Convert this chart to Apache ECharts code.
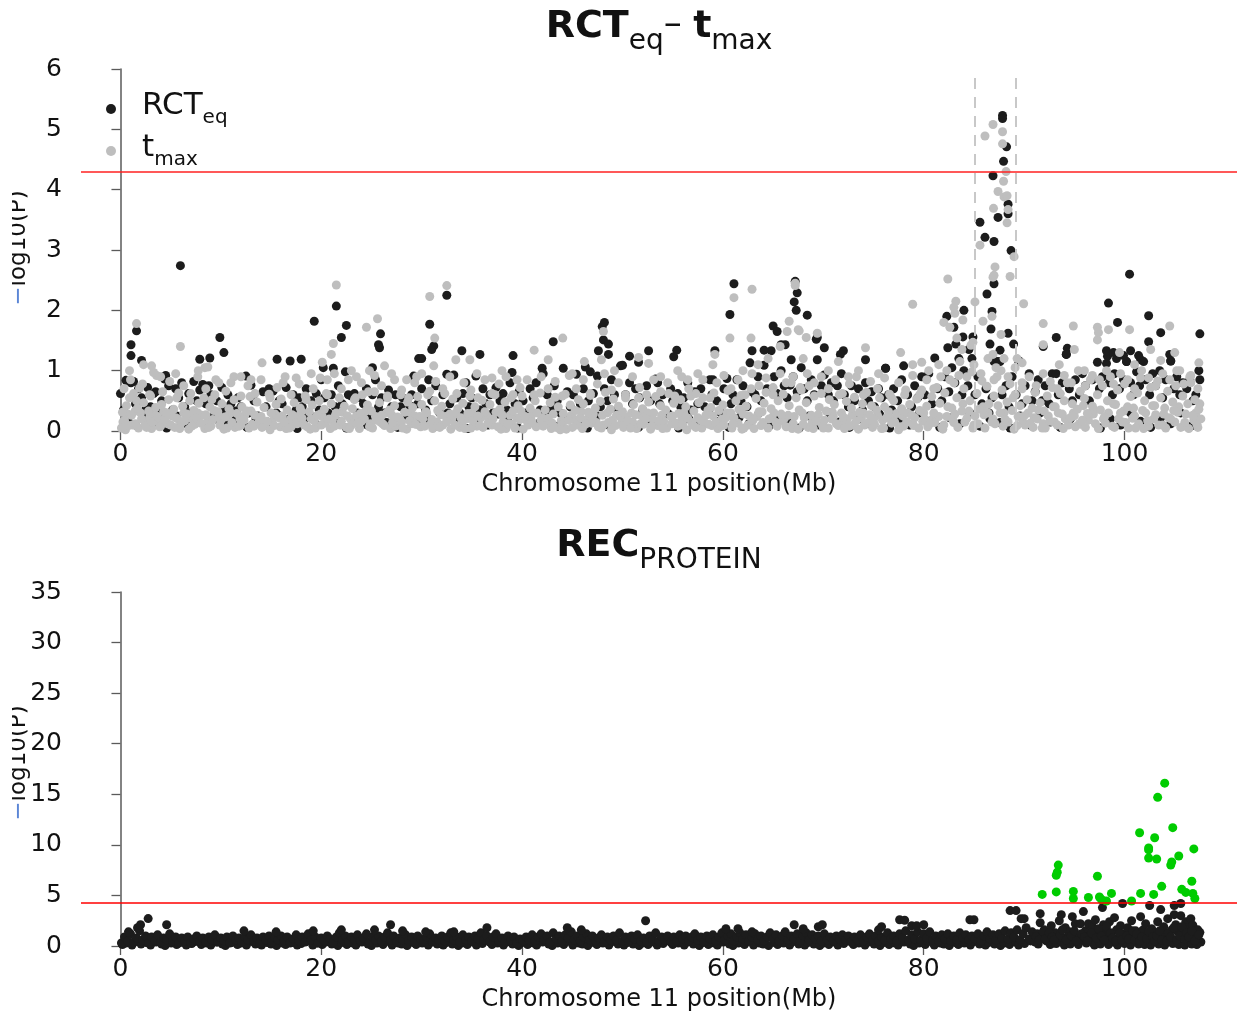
<!DOCTYPE html>
<html>
<head>
<meta charset="utf-8">
<title>RCTeq - tmax / RECprotein</title>
<script src="https://cdn.jsdelivr.net/npm/echarts@6/dist/echarts.min.js"></script>
<style>
html, body { margin: 0; padding: 0; background: #fff; }
#chart { width: 1243px; height: 1017px; }
</style>
</head>
<body>
<div id="chart"></div>
<script>
const xTicks = [0, 20, 40, 60, 80, 100]
const threshold = 4.3
const topRegion = [85.1, 89.2]
const topRegionTop = 5.92
const bottomRegion = [91.1, 107.6]
const bottomRegionTop = 35.3

// RCTeq (black): bulk of the band, low points, then the taller points
const rctBand = [
  [0.0,0.62],[0.3,0.35],[0.55,0.84],[0.8,0.15],[1.05,0.8],[1.3,0.82],[1.5,0.45],[1.8,0.7],
  [2.1,0.55],[2.4,0.25],[2.7,0.72],[3.0,0.4],[3.3,0.62],[3.5,0.65],[3.8,0.3],[4.1,0.5],[4.4,0.86],[4.5,0.92],[4.8,0.75],
  [5.2,0.35],[5.5,0.7],[5.8,0.55],[6.1,0.8],[6.4,0.4],[6.8,0.62],[7.0,0.3],[7.3,0.82],[7.6,0.5],[7.9,0.68],
  [8.2,0.77],[8.5,0.45],[8.8,0.75],[9.0,0.6],[9.3,0.25],[9.6,0.5],[10.1,0.72],[10.4,0.35],[10.7,0.6],
  [11.0,0.45],[11.4,0.2],[11.7,0.55],[12.0,0.4],[12.5,0.91],[12.8,0.3],[13.0,0.76],[13.3,0.5],[13.7,0.25],
  [14.2,0.65],[14.5,0.4],[14.8,0.7],[15.2,0.66],[15.5,0.3],[15.8,0.5],[16.1,0.45],[16.5,0.72],[16.8,0.2],
  [17.2,0.6],[17.5,0.35],[17.8,0.55],[18.1,0.4],[18.5,0.7],[18.8,0.28],[19.0,0.5],[19.5,0.62],[19.8,0.35],
  [20.0,0.85],[20.3,0.55],[20.7,0.3],[21.0,0.6],[21.4,0.4],[21.7,0.75],[22.1,0.45],[22.4,0.98],[22.7,0.6],
  [23.0,0.58],[23.3,0.62],[23.6,0.3],[23.9,0.55],[24.2,0.45],[24.5,0.7],[24.8,0.25],[25.1,0.6],[25.4,0.85],[25.7,0.4],
  [26.0,0.55],[26.3,0.3],[26.7,0.68],[27.0,0.4],[27.4,0.6],[27.9,0.4],[28.1,0.55],[28.4,0.3],[28.8,0.42],
  [29.0,0.6],[29.2,0.91],[29.6,0.45],[30.0,0.7],[30.4,0.35],[30.7,0.85],[31.0,0.5],[31.4,0.75],[31.8,0.3],
  [32.1,0.6],[32.5,0.94],[32.8,0.45],[33.2,0.93],[33.5,0.55],[33.8,0.3],[34.1,0.62],[34.4,0.8],[34.7,0.4],
  [35.0,0.55],[35.4,0.91],[35.8,0.35],[36.1,0.7],[36.4,0.45],[36.8,0.6],[37.1,0.3],[37.4,0.72],[37.8,0.5],
  [38.1,0.62],[38.5,0.35],[38.8,0.8],[39.0,0.97],[39.3,0.45],[39.7,0.65],[40.1,0.5],[40.4,0.3],[40.8,0.7],
  [41.1,0.55],[41.4,0.8],[41.8,0.35],[42.0,1.04],[42.1,0.95],[42.5,0.6],[42.9,0.4],[43.2,0.75],[43.5,0.5],[43.8,0.3],
  [44.1,1.04],[44.5,0.65],[44.8,0.4],[45.1,0.6],[45.4,0.94],[45.8,0.45],[46.1,0.7],[46.3,1.06],[46.6,0.5],[46.8,0.98],
  [47.1,0.62],[47.5,0.91],[47.8,0.4],[48.2,0.7],[48.5,0.5],[48.9,0.85],[49.2,0.6],[49.5,0.35],[49.8,1.08],
  [50.0,1.09],[50.3,0.6],[50.7,0.8],[51.0,0.45],[51.3,0.7],[51.7,0.55],[52.0,0.35],[52.4,0.75],[52.8,0.5],
  [53.3,0.86],[53.5,0.8],[53.7,0.45],[54.0,0.6],[54.4,0.3],[54.8,0.7],[55.0,0.5],[55.5,0.62],[55.8,0.4],
  [56.1,0.55],[56.5,0.8],[56.8,0.35],[57.2,0.65],[57.5,0.45],[57.8,0.7],[58.2,0.4],[58.7,0.85],[58.9,0.6],
  [59.0,0.85],[59.4,0.5],[59.8,0.3],[60.1,0.7],[60.4,0.87],[60.8,0.45],[61.0,0.6],[61.4,0.85],[61.8,0.5],
  [62.0,0.75],[62.4,0.4],[62.7,1.13],[62.9,0.65],[63.2,0.6],[63.5,0.9],[63.8,0.5],[64.1,1.09],[64.4,0.7],[64.8,1.33],
  [65.1,0.9],[65.4,0.62],[65.8,1.0],[66.1,0.75],[66.4,0.55],[66.7,0.76],[66.8,1.18],[67.0,0.9],[67.4,0.65],[67.8,1.05],
  [68.1,0.7],[68.4,0.5],[68.8,0.85],[69.1,0.6],[69.4,1.18],[69.8,0.75],[70.1,0.93],[70.5,0.6],[70.8,0.8],
  [71.0,0.5],[71.4,0.75],[71.8,0.95],[72.1,0.6],[72.5,0.4],[72.8,0.75],[73.1,0.5],[73.5,0.7],[73.9,0.35],
  [74.2,0.8],[74.5,0.5],[74.8,0.65],[75.1,0.4],[75.5,0.7],[75.8,0.55],[76.2,1.04],[76.5,0.6],[76.8,0.35],
  [77.0,0.7],[77.4,0.5],[77.8,0.85],[78.0,1.08],[78.4,0.6],[78.8,0.4],[79.1,0.75],[79.4,0.55],[79.8,0.9],
  [80.1,0.6],[80.5,0.95],[80.8,0.45],[81.1,1.21],[81.4,0.7],[81.8,0.5],[82.1,0.9],[82.5,0.65],[82.8,1.05],
  [83.1,0.8],[83.5,1.2],[83.8,0.6],[84.0,1.0],[84.4,0.75],[84.8,1.2],[85.1,0.6],[85.4,0.9],[85.8,0.45],
  [86.2,0.7],[86.5,0.3],[86.8,0.55],[87.0,1.15],[87.3,1.15],[87.6,1.15],[87.8,0.6],[88.2,0.75],[88.5,0.4],[88.8,0.9],
  [89.2,0.6],[89.5,1.16],[89.8,0.45],[90.1,0.75],[90.5,0.95],[90.8,0.5],[91.1,0.65],[91.4,0.85],[91.8,0.5],
  [92.1,0.75],[92.5,0.45],[92.8,0.95],[93.2,0.95],[93.4,0.6],[93.8,0.8],[94.2,1.27],[94.5,0.7],[94.8,0.5],
  [95.1,0.85],[95.5,0.6],[95.8,0.95],[96.1,0.75],[96.5,0.5],[96.8,0.85],[97.3,1.14],[97.5,0.7],[97.8,0.9],
  [98.2,1.12],[98.5,0.8],[98.8,0.6],[99.0,0.95],[99.5,0.7],[99.9,0.85],[100.2,1.15],[100.6,0.8],[100.9,0.6],
  [101.2,0.98],[101.5,0.75],[101.9,1.15],[102.1,0.85],[102.5,0.6],[102.8,0.95],[103.1,0.75],[103.5,1.0],[103.8,0.55],
  [104.1,0.85],[104.6,1.16],[104.9,0.7],[105.2,0.9],[105.5,0.6],[105.8,0.8],[106.2,0.7],[106.5,0.85],[106.8,0.5],
  [107.1,0.6],[107.4,1.0],[107.5,0.85]
]
const rctLow = [
  [0.5,0.2],[1.5,0.1],[2.5,0.35],[3.6,0.15],[4.6,0.05],[5.6,0.25],[6.6,0.12],[7.5,0.3],[8.6,0.08],[9.5,0.2],
  [10.5,0.14],[11.5,0.33],[12.6,0.06],[13.5,0.2],[14.6,0.1],[15.6,0.28],[16.6,0.15],[17.6,0.04],[18.6,0.22],[19.6,0.1],
  [20.5,0.3],[21.6,0.16],[22.5,0.05],[23.5,0.2],[24.6,0.1],[25.6,0.3],[26.5,0.14],[27.6,0.06],[28.6,0.25],[29.5,0.12],
  [30.6,0.2],[31.6,0.08],[32.6,0.3],[33.6,0.15],[34.6,0.04],[35.6,0.22],[36.6,0.1],[37.6,0.28],[38.6,0.16],[39.6,0.05],
  [40.6,0.2],[41.6,0.12],[42.6,0.3],[43.6,0.08],[44.6,0.2],[45.6,0.14],[46.5,0.05],[47.5,0.25],[48.6,0.1],[49.6,0.3],
  [50.6,0.15],[51.6,0.06],[52.6,0.2],[53.6,0.12],[54.6,0.28],[55.6,0.05],[56.6,0.2],[57.6,0.1],[58.6,0.3],[59.6,0.16],
  [60.6,0.06],[61.6,0.22],[62.6,0.12],[63.6,0.3],[64.6,0.08],[65.6,0.2],[66.6,0.14],[67.6,0.05],[68.6,0.25],[69.6,0.1],
  [70.6,0.3],[71.6,0.15],[72.6,0.06],[73.6,0.2],[74.6,0.12],[75.6,0.28],[76.6,0.05],[77.6,0.2],[78.6,0.1],[79.6,0.3],
  [80.6,0.16],[81.6,0.06],[82.6,0.22],[83.6,0.12],[84.6,0.3],[85.6,0.08],[86.6,0.2],[87.6,0.14],[88.6,0.05],[89.6,0.25],
  [90.6,0.1],[91.6,0.3],[92.6,0.15],[93.6,0.06],[94.6,0.2],[95.6,0.12],[96.6,0.28],[97.6,0.05],[98.6,0.2],[99.6,0.1],
  [100.6,0.3],[101.6,0.16],[102.6,0.06],[103.6,0.22],[104.6,0.12],[105.6,0.3],[106.6,0.08],[107.3,0.2]
]
const rctHigh = [
  [1.05,1.43],[1.05,1.25],[1.6,1.66],[2.1,1.17],[5.97,2.74],[9.9,1.55],[10.3,1.3],[8.9,1.21],[7.9,1.19],
  [15.6,1.19],[16.9,1.16],[18.0,1.19],[19.3,1.82],[20.2,1.05],[21.2,1.04],[21.5,2.07],[22.0,1.55],[22.5,1.75],
  [25.1,1.05],[25.7,1.43],[25.8,1.38],[25.9,1.61],[29.7,1.2],[30.0,1.2],[30.8,1.77],[31.2,1.41],[31.0,1.35],
  [32.5,2.25],[34.0,1.33],[35.8,1.27],[39.1,1.25],[43.1,1.48],[47.6,1.33],[47.98,1.73],[48.2,1.8],[48.1,1.51],
  [48.6,1.44],[48.6,1.27],[50.7,1.24],[51.6,1.14],[52.6,1.33],[55.4,1.34],[55.1,1.23],[59.2,1.33],[60.7,1.93],
  [61.1,2.44],[62.9,1.33],[64.1,1.34],[65.0,1.74],[65.4,1.65],[65.8,1.43],[66.2,1.43],[67.2,2.48],[67.4,2.29],
  [67.1,2.14],[67.3,2.0],[68.4,1.92],[69.3,1.52],[69.4,1.55],[70.1,1.38],[72.0,1.33],[71.7,1.27],[74.2,1.18],
  [76.2,1.04],[84.0,2.0],[82.3,1.9],[83.0,1.72],[83.9,1.56],[84.9,1.56],[82.4,1.38],[83.2,1.44],[84.5,1.35],
  [85.6,3.46],[86.1,3.21],[87.0,3.14],[86.3,2.27],[87.0,2.44],[86.8,1.98],[86.7,1.69],[88.4,1.62],[88.95,1.44],
  [86.6,1.44],[87.6,1.34],[86.9,4.23],[87.95,4.47],[88.25,4.71],[87.85,5.23],[87.85,5.18],[88.4,3.76],[87.4,3.54],
  [88.4,3.6],[88.7,2.99],[89.45,1.16],[91.9,1.4],[93.2,1.55],[94.3,1.37],[94.2,1.27],[98.4,2.12],[99.3,1.8],
  [100.5,2.6],[102.4,1.91],[102.4,1.48],[103.6,1.63],[107.5,1.61],[98.3,1.24],[99.2,1.2],[100.2,1.15],[101.6,1.18],
  [100.6,1.33],[104.6,1.16],[98.2,1.33],[98.9,1.3],[99.9,1.25],[101.4,1.25],[104.5,1.27]
]

// tmax (grey)
const tmaxBand = [
  [0.1,0.05],[0.2,0.31],[0.4,0.18],[0.6,0.42],[0.8,0.09],[0.9,0.55],[1.1,0.26],[1.3,0.62],[1.5,0.12],[1.7,0.38],[1.9,0.71],
  [2.1,0.2],[2.3,0.47],[2.6,0.06],[2.8,0.33],[3.0,0.58],[3.2,0.15],[3.5,0.39],[3.7,0.24],[3.9,0.07],
  [4.1,0.44],[4.4,0.19],[4.6,0.3],[4.8,0.52],[5.0,0.1],[5.3,0.36],[5.5,0.22],[5.8,0.63],[5.9,0.04],
  [6.2,0.41],[6.4,0.17],[6.6,0.28],[6.9,0.5],[7.1,0.08],[7.3,0.34],[7.6,0.21],[7.8,0.46],
  [8.0,0.13],[8.3,0.55],[8.5,0.27],[8.8,0.06],[8.9,0.4],[9.2,0.19],[9.4,0.6],[9.7,0.32],[9.9,0.1],
  [10.1,0.45],[10.4,0.23],[10.6,0.05],[10.8,0.37],[11.1,0.14],[11.3,0.52],[11.6,0.29],[11.8,0.08],
  [12.1,0.4],[12.3,0.18],[12.6,0.33],[12.9,0.57],[13.1,0.11],[13.4,0.26],[13.6,0.48],[13.9,0.2],
  [14.1,0.06],[14.3,0.39],[14.6,0.16],[14.8,0.61],[15.0,0.3],[15.3,0.09],[15.5,0.44],[15.8,0.22],
  [16.0,0.53],[16.3,0.15],[16.6,0.35],[16.8,0.05],[17.1,0.27],[17.3,0.47],[17.6,0.12],[17.9,0.38],
  [18.1,0.21],[18.4,0.58],[18.6,0.07],[18.8,0.32],[19.1,0.43],[19.3,0.17],[19.6,0.26],[19.8,0.5],
  [20.0,0.1],[20.3,0.36],[20.5,0.62],[20.8,0.2],[21.0,0.45],[21.3,0.08],[21.5,0.3],[21.8,0.55],
  [22.0,0.16],[22.3,0.41],[22.6,0.25],[22.8,0.04],[23.1,0.37],[23.3,0.52],[23.6,0.13],[23.9,0.29],
  [24.1,0.6],[24.3,0.2],[24.6,0.43],[24.8,0.07],[25.0,0.33],[25.3,0.65],[25.5,0.18],[25.8,0.47],
  [26.0,0.26],[26.3,0.09],[26.6,0.55],[26.8,0.35],[27.1,0.14],[27.3,0.42],[27.6,0.23],[27.9,0.6],
  [28.1,0.05],[28.3,0.31],[28.6,0.48],[28.8,0.17],[29.1,0.39],[29.4,0.11],[29.6,0.57],[29.8,0.24],
  [30.0,0.44],[30.3,0.08],[30.5,0.3],[30.8,0.66],[31.0,0.19],[31.3,0.5],[31.6,0.34],[31.8,0.06],
  [32.0,0.41],[32.3,0.62],[32.5,0.15],[32.8,0.28],[33.1,0.53],[33.3,0.1],[33.6,0.37],[33.9,0.22],
  [34.1,0.46],[34.3,0.04],[34.6,0.29],[34.8,0.58],[35.1,0.17],[35.3,0.4],[35.6,0.25],[35.8,0.09],
  [36.0,0.51],[36.3,0.32],[36.6,0.13],[36.8,0.44],[37.1,0.2],[37.3,0.6],[37.6,0.07],[37.8,0.36],
  [38.0,0.27],[38.3,0.48],[38.6,0.12],[38.9,0.55],[39.1,0.33],[39.3,0.05],[39.6,0.42],[39.8,0.19],
  [40.0,0.58],[40.3,0.24],[40.6,0.1],[40.8,0.38],[41.0,0.15],[41.3,0.5],[41.5,0.3],[41.8,0.63],
  [42.1,0.08],[42.3,0.35],[42.6,0.21],[42.8,0.47],[43.0,0.13],[43.3,0.56],[43.6,0.4],[43.8,0.02],
  [44.1,0.29],[44.3,0.61],[44.6,0.18],[44.8,0.43],[45.0,0.06],[45.3,0.34],[45.6,0.52],[45.8,0.22],
  [46.1,0.45],[46.3,0.11],[46.6,0.31],[46.8,0.59],[47.0,0.2],[47.3,0.38],[47.6,0.07],[47.8,0.49],
  [48.0,0.26],[48.3,0.64],[48.6,0.14],[48.8,0.36],[49.1,0.53],[49.3,0.09],[49.6,0.41],[49.8,0.23],
  [50.0,0.32],[50.3,0.6],[50.5,0.16],[50.8,0.05],[51.1,0.44],[51.3,0.27],[51.6,0.55],[51.8,0.12],
  [52.0,0.37],[52.3,0.2],[52.6,0.48],[52.9,0.08],[53.1,0.3],[53.3,0.57],[53.6,0.17],[53.8,0.42],
  [54.0,0.04],[54.3,0.35],[54.6,0.62],[54.8,0.24],[55.1,0.46],[55.3,0.13],[55.6,0.29],[55.8,0.52],
  [56.0,0.1],[56.3,0.4],[56.5,0.21],[56.8,0.58],[57.1,0.33],[57.3,0.06],[57.6,0.47],[57.8,0.18],
  [58.0,0.55],[58.3,0.26],[58.6,0.11],[58.8,0.39],[59.1,0.63],[59.3,0.15],[59.6,0.34],[59.8,0.08],
  [60.0,0.43],[60.3,0.22],[60.5,0.67],[60.8,0.3],[61.0,0.12],[61.3,0.5],[61.6,0.36],[61.8,0.59],
  [62.1,0.05],[62.3,0.41],[62.6,0.25],[62.8,0.7],[63.0,0.18],[63.3,0.54],[63.6,0.32],[63.8,0.09],
  [64.1,0.46],[64.3,0.64],[64.6,0.2],[64.8,0.37],[65.0,0.72],[65.3,0.14],[65.5,0.5],[65.8,0.28],
  [66.0,0.61],[66.3,0.07],[66.6,0.42],[66.8,0.8],[67.1,0.24],[67.3,0.55],[67.6,0.35],[67.8,0.68],
  [68.0,0.11],[68.3,0.47],[68.6,0.75],[68.8,0.26],[69.1,0.58],[69.3,0.16],[69.6,0.39],[69.8,0.62],
  [70.0,0.05],[70.3,0.33],[70.6,0.52],[70.8,0.2],[71.1,0.44],[71.3,0.12],[71.6,0.6],[71.8,0.3],
  [72.0,0.23],[72.3,0.49],[72.6,0.08],[72.8,0.38],[73.1,0.56],[73.3,0.17],[73.6,0.31],[73.9,0.45],
  [74.1,0.1],[74.3,0.64],[74.6,0.27],[74.8,0.42],[75.0,0.19],[75.3,0.35],[75.6,0.55],[75.8,0.04],
  [76.1,0.4],[76.3,0.22],[76.6,0.61],[76.8,0.13],[77.0,0.5],[77.3,0.29],[77.6,0.07],[77.8,0.37],
  [78.1,0.6],[78.3,0.15],[78.6,0.44],[78.8,0.26],[79.0,0.09],[79.3,0.53],[79.6,0.34],[79.8,0.68],
  [80.1,0.2],[80.3,0.41],[80.6,0.12],[80.8,0.57],[81.0,0.3],[81.3,0.72],[81.6,0.46],[81.8,0.06],
  [82.1,0.63],[82.3,0.24],[82.6,0.85],[82.8,0.38],[83.0,0.14],[83.3,0.55],[83.5,0.92],[83.8,0.33],
  [84.0,0.7],[84.3,0.21],[84.6,0.5],[84.8,0.98],[85.0,0.1],[85.3,0.62],[85.5,0.36],[85.8,0.83],
  [86.0,0.27],[86.3,0.74],[86.5,0.45],[86.8,0.15],[87.0,0.58],[87.3,0.9],[87.6,0.3],[87.8,0.68],
  [88.1,0.19],[88.3,0.48],[88.6,0.78],[88.8,0.34],[89.1,0.6],[89.3,0.09],[89.6,0.42],[89.8,0.7],
  [90.0,0.25],[90.3,0.52],[90.6,0.13],[90.8,0.38],[91.1,0.64],[91.3,0.2],[91.6,0.47],[91.8,0.05],
  [92.0,0.33],[92.3,0.58],[92.6,0.16],[92.8,0.72],[93.1,0.4],[93.3,0.1],[93.6,0.62],[93.8,0.28],
  [94.0,0.5],[94.3,0.8],[94.6,0.22],[94.8,0.45],[95.1,0.07],[95.3,0.36],[95.6,0.66],[95.8,0.18],
  [96.0,0.54],[96.3,0.29],[96.6,0.85],[96.8,0.41],[97.1,0.12],[97.3,0.6],[97.6,0.35],[97.8,0.75],
  [98.0,0.23],[98.3,0.5],[98.6,0.9],[98.8,0.08],[99.1,0.44],[99.3,0.68],[99.6,0.3],[99.8,0.15],
  [100.0,0.78],[100.3,0.4],[100.6,0.57],[100.8,0.21],[101.1,0.05],[101.3,0.63],[101.6,0.88],[101.8,0.34],
  [102.0,0.5],[102.3,0.17],[102.6,0.72],[102.8,0.42],[103.1,0.27],[103.3,0.83],[103.6,0.55],[103.8,0.1],
  [104.0,0.38],[104.3,0.66],[104.6,0.2],[104.8,0.48],[105.1,0.75],[105.3,0.31],[105.6,0.06],[105.8,0.58],
  [106.0,0.14],[106.3,0.45],[106.6,0.8],[106.8,0.26],[107.0,0.52],[107.2,0.11],[107.4,0.36],[107.6,0.2]
]
const tmaxLow = [
  [0.25,0.15],[0.5,0.02],[0.75,0.28],[1.2,0.1],[1.45,0.33],[1.8,0.05],[2.0,0.3],[2.45,0.12],[2.9,0.22],
  [3.1,0.04],[3.4,0.27],[3.8,0.18],[4.0,0.08],[4.3,0.32],[4.7,0.12],[5.1,0.25],[5.4,0.06],[5.7,0.2],
  [6.0,0.12],[6.3,0.3],[6.8,0.03],[7.0,0.22],[7.4,0.11],[7.7,0.3],[8.1,0.26],[8.4,0.04],[8.7,0.17],
  [9.0,0.08],[9.3,0.34],[9.8,0.23],[10.0,0.18],[10.3,0.03],[10.7,0.25],[11.0,0.3],[11.4,0.06],[11.9,0.2],
  [12.0,0.1],[12.4,0.27],[12.8,0.05],[13.0,0.33],[13.3,0.08],[13.8,0.15],[14.0,0.24],[14.4,0.12],[14.9,0.02],
  [15.1,0.16],[15.4,0.28],[15.9,0.07],[16.1,0.25],[16.5,0.04],[16.9,0.19],[17.0,0.07],[17.4,0.24],[17.8,0.14],
  [18.0,0.33],[18.3,0.1],[18.9,0.03],[19.0,0.2],[19.4,0.05],[19.9,0.28],[20.1,0.24],[20.4,0.13],[20.9,0.04],
  [21.1,0.18],[21.4,0.26],[21.9,0.1],[22.1,0.31],[22.5,0.06],[22.9,0.2],[23.0,0.1],[23.5,0.25],[23.8,0.04],
  [24.0,0.16],[24.4,0.33],[24.9,0.12],[25.1,0.05],[25.4,0.24],[25.9,0.15],[26.1,0.12],[26.5,0.3],[26.9,0.04],
  [27.0,0.27],[27.4,0.08],[27.8,0.2],[28.0,0.15],[28.5,0.03],[28.9,0.3],[29.0,0.12],[29.3,0.25],[29.9,0.07],
  [30.1,0.2],[30.4,0.32],[30.9,0.11],[31.1,0.04],[31.5,0.15],[31.9,0.27],[32.1,0.1],[32.4,0.24],[32.9,0.03],
  [33.0,0.2],[33.4,0.3],[33.8,0.06],[34.0,0.13],[34.5,0.2],[34.9,0.05],[35.0,0.3],[35.5,0.08],[35.9,0.22],
  [36.1,0.06],[36.5,0.25],[36.9,0.14],[37.0,0.1],[37.4,0.31],[37.9,0.03],[38.1,0.15],[38.4,0.04],[38.8,0.26],
  [39.0,0.11],[39.5,0.21],[39.9,0.33],[40.1,0.03],[40.5,0.16],[40.9,0.24],[41.1,0.3],[41.4,0.07],[41.9,0.18],
  [42.0,0.22],[42.4,0.12],[42.9,0.04],[43.1,0.28],[43.4,0.06],[43.9,0.17],[44.0,0.11],[44.4,0.03],[44.9,0.26],
  [45.1,0.2],[45.5,0.1],[45.9,0.32],[46.0,0.04],[46.5,0.2],[46.9,0.13],[47.1,0.28],[47.4,0.14],[47.9,0.05],
  [48.1,0.1],[48.5,0.3],[48.9,0.02],[49.0,0.18],[49.4,0.26],[49.9,0.12],[50.1,0.06],[50.4,0.23],[50.9,0.3],
  [51.0,0.15],[51.4,0.04],[51.9,0.25],[52.1,0.11],[52.5,0.3],[52.8,0.03],[53.0,0.2],[53.5,0.09],[53.9,0.26],
  [54.1,0.16],[54.4,0.05],[54.9,0.12],[55.0,0.25],[55.5,0.08],[55.9,0.18],[56.1,0.3],[56.4,0.02],[56.9,0.14],
  [57.0,0.1],[57.5,0.22],[57.9,0.05],[58.1,0.16],[58.5,0.34],[58.9,0.09],[59.0,0.25],[59.5,0.04],[59.9,0.2],
  [60.1,0.1],[60.4,0.3],[60.9,0.05],[61.1,0.22],[61.5,0.13],[61.9,0.03],[62.0,0.28],[62.5,0.1],[62.9,0.18],
  [63.1,0.04],[63.4,0.24],[63.9,0.32],[64.0,0.14],[64.5,0.05],[64.9,0.22],[65.1,0.3],[65.4,0.08],[65.9,0.16],
  [66.1,0.2],[66.5,0.26],[66.9,0.04],[67.0,0.12],[67.5,0.03],[67.9,0.3],[68.1,0.22],[68.5,0.06],[68.9,0.14],
  [69.0,0.04],[69.5,0.27],[69.9,0.1],[70.1,0.18],[70.5,0.05],[70.9,0.31],[71.0,0.24],[71.5,0.09],[71.9,0.15],
  [72.1,0.04],[72.4,0.2],[72.9,0.27],[73.0,0.1],[73.5,0.03],[73.8,0.22],[74.0,0.3],[74.5,0.14],[74.9,0.06],
  [75.1,0.11],[75.4,0.26],[75.9,0.18],[76.0,0.05],[76.5,0.32],[76.9,0.2],[77.1,0.15],[77.5,0.02],[77.9,0.25],
  [78.0,0.08],[78.4,0.3],[78.9,0.12],[79.1,0.22],[79.5,0.05],[79.9,0.16],[80.0,0.3],[80.4,0.07],[80.9,0.2],
  [81.1,0.14],[81.5,0.24],[81.9,0.03],[82.0,0.1],[82.4,0.4],[82.9,0.18],[83.1,0.28],[83.4,0.06],[83.9,0.45],
  [84.1,0.15],[84.5,0.33],[84.9,0.05],[85.1,0.25],[85.4,0.12],[85.9,0.4],[86.1,0.05],[86.4,0.3],[86.9,0.2],
  [87.1,0.12],[87.4,0.42],[87.9,0.08],[88.0,0.3],[88.4,0.15],[88.9,0.55],[89.0,0.03],[89.4,0.24],[89.9,0.14],
  [90.1,0.1],[90.4,0.3],[90.9,0.06],[91.0,0.22],[91.4,0.35],[91.9,0.12],[92.1,0.05],[92.4,0.25],[92.9,0.4],
  [93.0,0.15],[93.4,0.3],[93.9,0.04],[94.1,0.2],[94.4,0.1],[94.9,0.3],[95.0,0.25],[95.5,0.12],[95.9,0.42],
  [96.1,0.06],[96.4,0.18],[96.9,0.28],[97.0,0.35],[97.4,0.04],[97.9,0.2],[98.1,0.13],[98.4,0.3],[98.9,0.45],
  [99.0,0.06],[99.4,0.2],[99.9,0.33],[100.1,0.14],[100.4,0.05],[100.9,0.38],[101.0,0.25],[101.4,0.12],[101.9,0.04],
  [102.1,0.3],[102.4,0.08],[102.9,0.2],[103.0,0.42],[103.4,0.1],[103.9,0.28],[104.1,0.05],[104.4,0.22],[104.9,0.34],
  [105.0,0.15],[105.4,0.4],[105.9,0.08],[106.1,0.28],[106.4,0.04],[106.9,0.18],[107.1,0.3],[107.3,0.06],[107.5,0.45]
]
const tmaxMid = [
  [0.35,0.7],[1.0,0.85],[1.6,0.5],[2.2,0.78],[2.9,0.6],[3.6,0.92],[4.2,0.65],[4.9,0.82],[5.6,0.55],[6.3,0.75],
  [7.0,0.62],[7.7,0.9],[8.5,0.7],[9.1,0.52],[9.8,0.8],[10.5,0.66],[11.3,0.9],[12.0,0.58],[12.7,0.75],[13.4,0.62],
  [14.0,0.85],[14.9,0.55],[15.6,0.72],[16.4,0.9],[17.0,0.6],[17.8,0.78],[18.5,0.52],[19.2,0.7],[19.9,0.88],[20.6,0.6],
  [21.3,0.95],[22.0,0.7],[22.7,0.85],[23.4,0.55],[24.0,0.8],[24.7,0.65],[25.3,0.92],[26.0,0.75],[26.6,0.58],[27.3,0.85],
  [28.0,0.68],[28.7,0.55],[29.3,0.8],[30.0,0.95],[30.6,0.6],[31.4,0.82],[32.1,0.7],[32.8,0.9],[33.5,0.62],[34.2,0.8],
  [34.9,0.68],[35.6,0.55],[36.3,0.85],[37.0,0.62],[37.7,0.78],[38.4,0.9],[39.1,0.6],[39.8,0.72],[40.5,0.85],[41.2,0.6],
  [41.9,0.9],[42.6,0.7],[43.3,0.82],[44.0,0.58],[44.7,0.92],[45.4,0.7],[46.1,0.85],[46.8,0.62],[47.5,0.78],[48.2,0.95],
  [48.9,0.68],[49.6,0.8],[50.3,0.55],[51.0,0.9],[51.7,0.72],[52.4,0.6],[53.1,0.85],[53.8,0.65],[54.5,0.8],[55.2,0.58],
  [55.9,0.9],[56.6,0.7],[57.3,0.62],[58.0,0.85],[58.7,0.55],[59.4,0.8],[60.1,0.92],[60.8,0.7],[61.5,0.85],[62.2,0.6],
  [62.9,0.95],[63.6,0.75],[64.3,0.88],[65.0,0.6],[65.7,0.95],[66.3,0.8],[67.0,0.9],[67.7,0.72],[68.4,0.95],[69.1,0.8],
  [69.8,0.9],[70.5,0.7],[71.2,0.85],[71.9,0.62],[72.6,0.78],[73.3,0.9],[74.0,0.6],[74.7,0.82],[75.4,0.7],[76.1,0.88],
  [76.8,0.55],[77.5,0.8],[78.2,0.68],[78.9,0.92],[79.6,0.6],[80.3,0.85],[81.0,0.7],[81.7,0.9],[82.3,1.0],[83.0,0.8],
  [83.6,1.15],[84.3,0.9],[85.0,1.1],[85.7,0.95],[86.4,1.2],[87.0,0.85],[87.7,1.0],[88.4,0.9],[89.1,1.05],[89.8,0.8],
  [90.5,0.9],[91.2,0.75],[91.9,0.95],[92.6,0.82],[93.3,0.7],[94.0,0.92],[94.7,0.8],[95.4,1.0],[96.1,0.75],[96.8,0.92],
  [97.5,0.85],[98.2,1.0],[98.9,0.78],[99.6,0.95],[100.3,0.85],[101.0,0.7],[101.7,1.0],[102.4,0.88],[103.1,0.75],[103.8,0.95],
  [104.5,0.85],[105.2,1.0],[105.9,0.78],[106.6,0.92],[107.3,0.7]
]
const tmaxHigh = [
  [0.9,1.0],[1.6,1.78],[2.3,1.1],[3.1,1.08],[3.3,0.97],[4.0,0.9],[5.97,1.4],[5.5,0.95],[7.75,1.0],[8.4,1.05],
  [8.7,1.06],[9.5,0.85],[11.0,0.8],[12.0,0.9],[14.1,1.13],[13.0,0.85],[16.2,0.8],[17.5,0.88],[19.0,0.95],
  [20.1,1.14],[20.6,0.85],[21.2,1.45],[21.0,1.27],[21.5,2.42],[23.0,1.0],[23.5,0.9],[24.5,1.72],[25.6,1.86],
  [26.3,1.08],[24.8,1.0],[27.0,0.95],[28.5,0.85],[29.5,0.9],[30.8,2.23],[31.3,1.54],[32.5,2.41],[33.4,1.18],
  [31.2,1.08],[34.8,1.18],[35.5,0.95],[37.0,0.88],[38.0,1.0],[39.5,0.85],[41.2,1.34],[42.6,1.18],[44.05,1.54],
  [45.0,0.95],[46.2,1.15],[47.9,1.18],[48.1,1.65],[49.2,1.0],[51.6,1.22],[52.6,1.12],[53.8,0.9],[55.5,1.0],
  [56.5,0.85],[57.5,0.95],[59.2,1.27],[59.0,1.1],[60.7,1.54],[61.1,2.21],[62.9,2.35],[62.8,1.54],[62.0,1.0],
  [63.5,1.1],[64.5,1.2],[65.7,1.4],[66.6,1.82],[66.4,1.65],[67.2,2.45],[67.2,2.41],[67.5,1.68],[67.6,1.66],
  [68.3,1.55],[68.0,1.2],[69.4,1.62],[70.5,1.0],[71.5,1.15],[72.5,0.9],[73.5,1.0],[74.2,1.38],[75.5,0.95],
  [77.7,1.3],[78.9,2.1],[78.9,1.1],[79.8,1.14],[80.5,1.0],[81.5,1.1],[82.4,2.52],[83.2,2.15],[83.0,2.05],
  [83.1,1.95],[82.0,1.8],[82.6,1.72],[83.9,1.84],[83.3,1.54],[84.9,1.47],[84.7,1.42],[83.8,1.35],[85.1,2.14],
  [85.6,3.08],[85.9,1.82],[86.1,4.89],[86.9,5.08],[87.85,4.96],[87.85,4.76],[88.2,4.3],[87.95,4.14],[87.4,3.97],
  [88.0,3.88],[88.3,3.9],[88.4,3.67],[86.95,3.69],[88.3,3.45],[89.0,2.89],[87.1,2.72],[86.9,2.55],[87.0,2.58],
  [88.6,2.56],[86.8,1.9],[87.7,1.6],[86.9,1.27],[87.2,1.05],[88.0,1.2],[89.95,2.11],[89.3,1.2],[89.8,1.13],
  [91.9,1.78],[91.9,1.43],[93.5,1.1],[94.9,1.74],[95.0,1.35],[96.0,1.0],[97.3,1.72],[97.3,1.51],[97.4,1.63],
  [98.4,1.68],[99.5,1.3],[100.5,1.68],[101.0,1.1],[102.6,1.35],[103.6,1.17],[104.5,1.74],[105.0,1.3],
  [105.5,1.0],[106.5,0.9],[107.4,1.13]
]

// REC protein (black): 0-91 Mb band, isolated taller points, the 91-107 Mb region
const recBand = [
  [0.1,0.3],[0.4,0.9],[0.7,0.5],[1.0,1.2],[1.3,0.4],[1.6,0.8],[1.9,1.5],[2.2,0.6],[2.5,1.0],[2.8,0.3],
  [3.1,0.9],[3.4,0.5],[3.7,1.1],[4.0,0.4],[4.3,0.8],[4.6,0.6],[4.9,1.2],[5.2,0.5],[5.5,0.9],[5.8,0.3],
  [6.1,0.8],[6.4,0.5],[6.7,0.9],[7.0,0.3],[7.3,0.7],[7.6,1.0],[7.9,0.5],[8.2,0.8],[8.5,0.4],[8.8,0.9],
  [9.1,0.6],[9.4,1.1],[9.7,0.4],[10.0,0.8],[10.3,0.5],[10.6,0.9],[10.9,0.3],[11.2,1.0],[11.5,0.6],[11.8,0.8],
  [12.1,0.4],[12.4,0.9],[12.7,0.6],[13.0,1.1],[13.3,0.5],[13.6,0.8],[13.9,0.3],[14.2,0.9],[14.5,0.6],[14.8,1.0],
  [15.1,0.4],[15.4,0.8],[15.7,0.6],[16.0,1.0],[16.3,0.5],[16.6,0.9],[16.9,0.3],[17.2,0.7],[17.5,1.1],[17.8,0.5],
  [18.1,0.9],[18.4,0.4],[18.7,1.2],[19.0,0.6],[19.4,0.9],[19.7,0.3],[20.0,0.8],[20.3,0.5],[20.6,1.0],[20.9,0.7],
  [21.2,0.4],[21.5,0.9],[21.8,1.3],[22.1,0.6],[22.4,1.0],[22.7,0.4],[23.0,0.9],[23.3,0.6],[23.6,1.1],[23.9,0.5],
  [24.2,0.8],[24.5,1.2],[24.8,0.4],[25.1,0.9],[25.4,0.6],[25.7,1.0],[26.0,0.5],[26.3,0.9],[26.6,1.3],[26.9,0.6],
  [27.2,1.0],[27.5,0.4],[27.8,0.8],[28.1,0.6],[28.4,1.1],[28.7,0.5],[29.0,0.9],[29.3,0.4],[29.6,1.0],[29.9,0.7],
  [30.2,0.5],[30.5,0.9],[30.8,1.2],[31.1,0.4],[31.4,0.8],[31.7,0.6],[32.0,1.0],[32.3,0.5],[32.6,0.9],[32.9,1.3],
  [33.2,0.6],[33.5,0.9],[33.8,0.4],[34.1,1.1],[34.4,0.6],[34.7,0.9],[35.0,0.5],[35.3,1.0],[35.6,0.7],[35.9,1.3],
  [36.2,0.6],[36.5,1.0],[36.8,0.4],[37.1,0.9],[37.4,1.2],[37.7,0.5],[38.0,0.8],[38.3,0.4],[38.6,1.0],[38.9,0.6],
  [39.2,0.9],[39.5,0.3],[39.8,0.7],[40.1,0.5],[40.4,0.9],[40.7,0.6],[41.0,1.1],[41.3,0.5],[41.6,0.9],[41.9,1.2],
  [42.2,0.6],[42.5,1.0],[42.8,0.4],[43.1,1.3],[43.4,0.7],[43.7,1.0],[44.0,0.5],[44.3,1.1],[44.6,0.8],[44.9,1.4],
  [45.2,0.6],[45.5,1.0],[45.8,0.5],[46.1,0.9],[46.4,1.2],[46.7,0.6],[47.0,1.0],[47.3,0.5],[47.6,0.8],[47.9,1.1],
  [48.2,0.4],[48.5,0.9],[48.8,0.6],[49.1,1.0],[49.4,0.6],[49.7,1.3],[50.0,0.5],[50.3,0.9],[50.6,0.4],[50.9,1.0],
  [51.2,0.7],[51.5,1.1],[51.8,0.5],[52.1,0.8],[52.4,0.4],[52.7,1.0],[53.0,0.6],[53.3,1.3],[53.6,0.5],[53.9,0.9],
  [54.2,0.6],[54.5,1.0],[54.8,0.4],[55.1,0.9],[55.4,0.5],[55.7,1.1],[56.0,0.7],[56.3,1.0],[56.6,0.5],[56.9,0.9],
  [57.2,1.2],[57.5,0.6],[57.8,0.9],[58.1,0.4],[58.4,1.0],[58.7,0.7],[59.0,1.1],[59.3,0.5],[59.6,0.9],[59.9,1.3],
  [60.2,0.6],[60.5,1.0],[60.8,1.2],[61.1,0.5],[61.4,0.9],[61.7,1.3],[62.0,0.7],[62.3,1.1],[62.6,0.5],[62.9,0.9],
  [63.2,1.2],[63.5,0.6],[63.8,1.0],[64.1,0.5],[64.4,0.9],[64.7,1.3],[65.0,0.7],[65.3,1.1],[65.6,0.5],[65.9,1.0],
  [66.2,1.4],[66.5,0.6],[66.8,1.0],[67.1,0.7],[67.4,1.2],[67.7,0.5],[68.0,1.0],[68.3,1.3],[68.6,0.6],[68.9,1.1],
  [69.2,0.7],[69.5,1.0],[69.8,0.5],[70.1,1.2],[70.4,0.6],[70.7,0.9],[71.0,0.5],[71.3,1.0],[71.6,0.7],[71.9,1.1],
  [72.2,0.6],[72.5,1.0],[72.8,0.4],[73.1,0.9],[73.4,0.6],[73.7,1.1],[74.0,0.5],[74.3,0.9],[74.6,1.2],[74.9,0.6],
  [75.2,1.0],[75.5,0.5],[75.8,0.9],[76.1,0.6],[76.4,1.3],[76.7,0.7],[77.0,1.0],[77.3,0.5],[77.6,1.2],[77.9,0.8],
  [78.2,1.5],[78.5,0.6],[78.8,1.1],[79.1,0.7],[79.4,1.4],[79.7,0.6],[80.0,1.2],[80.3,0.8],[80.6,1.4],[80.9,0.6],
  [81.2,1.0],[81.5,0.5],[81.8,1.1],[82.1,0.7],[82.4,1.2],[82.7,0.5],[83.0,1.0],[83.3,0.6],[83.6,1.3],[83.9,0.8],
  [84.2,1.1],[84.5,0.6],[84.8,1.0],[85.1,0.7],[85.4,1.2],[85.7,0.5],[86.0,1.0],[86.3,1.4],[86.6,0.7],[86.9,1.1],
  [87.2,0.6],[87.5,1.2],[87.8,0.8],[88.1,1.5],[88.4,0.7],[88.7,1.3],[89.0,0.9],[89.3,1.6],[89.6,0.6],[89.9,1.2],
  [90.2,1.8],[90.5,0.7],[90.8,1.4]
]
const recLow = [
  [0.2,0.15],[0.55,0.3],[1.15,0.1],[1.5,0.45],[2.05,0.2],[2.6,0.35],[3.0,0.1],[3.55,0.4],[4.1,0.2],[4.45,0.05],
  [5.05,0.3],[5.6,0.15],[6.0,0.4],[6.55,0.1],[7.1,0.25],[7.45,0.45],[8.05,0.15],[8.6,0.3],[9.0,0.1],[9.55,0.4],
  [10.15,0.2],[10.45,0.05],[11.05,0.35],[11.65,0.15],[12.0,0.3],[12.55,0.1],[13.15,0.45],[13.45,0.2],[14.05,0.1],[14.6,0.35],
  [15.0,0.2],[15.55,0.05],[16.15,0.3],[16.45,0.15],[17.05,0.4],[17.6,0.1],[18.0,0.25],[18.55,0.5],[19.15,0.1],[19.55,0.3],
  [20.1,0.15],[20.45,0.4],[21.05,0.2],[21.65,0.05],[22.0,0.35],[22.55,0.15],[23.15,0.3],[23.45,0.1],[24.05,0.4],[24.65,0.2],
  [25.0,0.05],[25.55,0.3],[26.15,0.15],[26.45,0.45],[27.05,0.1],[27.65,0.3],[28.0,0.2],[28.55,0.05],[29.15,0.35],[29.45,0.15],
  [30.05,0.3],[30.65,0.1],[31.0,0.45],[31.55,0.2],[32.15,0.1],[32.45,0.35],[33.05,0.2],[33.65,0.05],[34.0,0.3],[34.55,0.15],
  [35.15,0.4],[35.45,0.1],[36.05,0.25],[36.65,0.5],[37.0,0.15],[37.55,0.3],[38.15,0.1],[38.45,0.4],[39.05,0.2],[39.65,0.05],
  [40.0,0.35],[40.55,0.15],[41.15,0.3],[41.45,0.1],[42.05,0.4],[42.65,0.2],[43.0,0.05],[43.55,0.3],[44.15,0.15],[44.45,0.45],
  [45.05,0.1],[45.65,0.3],[46.0,0.2],[46.55,0.05],[47.15,0.35],[47.45,0.15],[48.05,0.3],[48.65,0.1],[49.0,0.45],[49.55,0.2],
  [50.15,0.1],[50.45,0.35],[51.05,0.2],[51.65,0.05],[52.0,0.3],[52.55,0.15],[53.15,0.4],[53.45,0.1],[54.05,0.25],[54.65,0.5],
  [55.0,0.15],[55.55,0.3],[56.15,0.1],[56.45,0.4],[57.05,0.2],[57.65,0.05],[58.0,0.35],[58.55,0.15],[59.15,0.3],[59.45,0.1],
  [60.05,0.4],[60.65,0.2],[61.0,0.05],[61.55,0.3],[62.15,0.15],[62.45,0.45],[63.05,0.1],[63.65,0.3],[64.0,0.2],[64.55,0.05],
  [65.15,0.35],[65.45,0.15],[66.05,0.3],[66.65,0.1],[67.0,0.45],[67.55,0.2],[68.15,0.1],[68.45,0.35],[69.05,0.2],[69.65,0.05],
  [70.0,0.3],[70.55,0.15],[71.15,0.4],[71.45,0.1],[72.05,0.25],[72.65,0.5],[73.0,0.15],[73.55,0.3],[74.15,0.1],[74.45,0.4],
  [75.05,0.2],[75.65,0.05],[76.0,0.35],[76.55,0.15],[77.15,0.3],[77.45,0.1],[78.05,0.4],[78.65,0.2],[79.0,0.05],[79.55,0.3],
  [80.15,0.15],[80.45,0.45],[81.05,0.1],[81.65,0.3],[82.0,0.2],[82.55,0.05],[83.15,0.35],[83.45,0.15],[84.05,0.3],[84.65,0.1],
  [85.0,0.45],[85.55,0.2],[86.15,0.1],[86.45,0.35],[87.05,0.2],[87.65,0.05],[88.0,0.3],[88.55,0.15],[89.15,0.4],[89.45,0.1],
  [90.05,0.25],[90.65,0.5]
]
const recSpikes = [
  [0.8,1.4],[1.7,1.8],[2.0,2.1],[2.76,2.71],[4.6,2.1],[12.3,1.5],[15.5,1.4],[19.2,1.5],[22.0,1.6],[25.3,1.6],
  [26.9,2.1],[28.1,1.5],[30.4,1.4],[33.2,1.4],[36.5,1.8],[44.5,1.8],[45.9,1.6],[52.3,2.5],[60.3,1.7],[61.5,1.7],
  [62.9,1.4],[67.1,2.1],[68.0,1.7],[69.5,1.9],[69.9,2.1],[75.5,1.6],[75.8,1.9],[77.6,2.6],[78.1,2.55],[78.8,2.0],
  [79.3,2.0],[80.0,2.1],[84.6,2.6],[85.0,2.6],[88.6,3.5],[89.2,3.5],[89.7,2.7],[90.0,2.7]
]
const recRegion = [
  [91.1,0.4],[91.3,1.2],[91.6,2.3],[91.6,3.2],[91.8,0.8],[92.0,1.6],[92.2,0.5],[92.4,1.0],[92.7,2.0],[92.9,0.3],
  [93.1,1.3],[93.3,0.7],[93.5,2.5],[93.7,3.1],[93.9,0.4],[94.1,1.8],[94.3,0.9],[94.5,1.4],[94.8,2.9],[94.9,0.5],
  [95.1,2.2],[95.3,1.0],[95.6,2.2],[95.8,0.6],[95.9,3.4],[96.1,1.5],[96.4,2.2],[96.6,0.8],[96.8,1.9],[96.9,0.3],
  [97.1,2.6],[97.3,1.2],[97.5,0.6],[97.8,3.8],[97.9,2.1],[98.1,1.4],[98.3,0.7],[98.5,2.4],[98.7,1.0],[98.9,0.4],
  [99.0,2.8],[99.2,1.6],[99.4,0.8],[99.6,2.0],[99.8,4.2],[99.9,1.2],[100.1,0.5],[100.3,1.8],[100.5,1.1],[100.7,2.5],
  [100.9,0.7],[101.1,1.5],[101.3,0.9],[101.6,2.9],[101.8,1.55],[101.9,0.4],[102.1,2.2],[102.3,1.0],[102.5,4.0],
  [102.7,1.7],[102.9,0.6],[103.1,1.3],[103.3,2.4],[103.6,3.6],[103.8,0.8],[103.9,1.9],[104.1,1.1],[104.3,2.7],
  [104.5,0.5],[104.7,1.6],[104.95,4.0],[104.95,3.1],[105.1,2.1],[105.3,1.4],[105.6,4.2],[105.6,3.0],[105.8,0.9],
  [105.9,1.2],[106.1,2.4],[106.3,1.8],[106.5,0.6],[106.6,2.7],[106.8,2.05],[106.9,1.0],[107.1,0.8],[107.3,1.6],
  [107.5,1.35],[107.6,0.4],
  [91.4,0.2],[92.6,0.15],[93.2,0.25],[94.0,0.1],[94.6,0.2],[95.4,0.15],[96.2,0.3],[97.0,0.1],[97.6,0.2],[98.4,0.15],
  [99.3,0.1],[100.0,0.25],[100.6,0.1],[101.4,0.2],[102.0,0.15],[102.6,0.1],[103.4,0.2],[104.0,0.1],[104.8,0.25],
  [105.4,0.15],[106.0,0.1],[106.7,0.2],[107.2,0.15],
  [91.2,0.9],[91.5,0.6],[91.9,1.4],[92.1,0.7],[92.5,1.3],[92.8,0.9],[93.0,0.6],[93.6,1.1],[93.8,1.6],[94.2,0.6],
  [94.7,1.0],[95.0,1.5],[95.2,0.5],[95.7,1.2],[96.0,0.9],[96.3,0.5],[96.7,1.3],[97.2,0.8],[97.4,1.7],[97.7,1.0],
  [98.0,0.6],[98.2,1.9],[98.6,1.3],[98.8,0.8],[99.1,0.5],[99.5,1.3],[99.7,0.6],[100.2,1.0],[100.4,0.7],[100.8,1.5],
  [101.0,0.6],[101.2,1.2],[101.5,0.5],[101.7,0.9],[102.2,0.7],[102.4,1.4],[102.8,0.9],[103.0,0.5],[103.2,1.0],
  [103.5,1.5],[103.7,0.6],[104.2,0.5],[104.4,1.3],[104.6,0.9],[104.9,1.8],[105.2,0.6],[105.5,1.0],[105.7,1.9],
  [106.0,0.7],[106.2,1.3],[106.4,0.9],[106.7,1.5],[107.0,0.5],[107.4,1.1]
]
// significant points (green)
const recSig = [
  [91.8,5.1],[93.2,5.35],[93.4,8.0],[93.2,7.0],[93.3,7.3],[94.9,5.4],[94.9,4.7],[96.4,4.8],[97.3,6.9],[97.5,4.85],
  [97.7,4.6],[98.2,4.45],[98.7,5.2],[100.7,4.45],[101.5,11.2],[101.6,5.2],[102.4,9.7],[102.4,9.5],[102.4,8.7],
  [102.9,5.1],[103.0,10.7],[103.2,8.6],[103.3,14.7],[103.7,5.9],[104.0,16.1],[104.5,35.2],[104.6,8.0],[104.7,8.3],
  [104.8,11.7],[105.4,8.9],[105.7,5.6],[106.1,5.3],[106.7,6.4],[106.8,5.2],[106.9,9.6],[107.0,4.7]
]

const FONT = 'DejaVu Sans'
const AXIS_COLOR = '#5a5a5a'
const DOT = 9

function xAxisFor(gridIndex) {
  return {
    type: 'value', gridIndex: gridIndex, min: -3.93, max: 111.2,
    name: 'Chromosome 11 position(Mb)', nameLocation: 'middle', nameGap: 42,
    nameTextStyle: { fontSize: 24, color: '#111', fontFamily: FONT },
    axisLine: { show: false },
    axisTick: { show: true, length: 9, customValues: xTicks, lineStyle: { color: AXIS_COLOR, width: 1.3 } },
    axisLabel: { customValues: xTicks, fontSize: 25, color: '#111', margin: 11, fontFamily: FONT },
    splitLine: { show: false }
  }
}
function yAxisFor(gridIndex, max, interval) {
  return {
    type: 'value', gridIndex: gridIndex, min: 0, max: max, interval: interval,
    axisLine: { show: true, lineStyle: { color: AXIS_COLOR, width: 1.5 } },
    axisTick: { show: true, length: 9, lineStyle: { color: AXIS_COLOR, width: 1.3 } },
    axisLabel: { fontSize: 25, color: '#111', margin: 19, fontFamily: FONT },
    splitLine: { show: false }
  }
}
function regionLines(region, top) {
  return region.map(v => [{ coord: [v, 0] }, { coord: [v, top] }])
}
function yLabel(centerY) {
  return {
    type: 'text', x: 31, y: centerY, rotation: Math.PI / 2, silent: true,
    style: {
      text: '{m|−}log10(P)', align: 'center', verticalAlign: 'bottom', fontSize: 23, fill: '#111', fontFamily: FONT,
      rich: { m: { fontSize: 23, fill: '#5b86d6', fontFamily: FONT } }
    }
  }
}

const chart = echarts.init(document.getElementById('chart'))
chart.setOption({
  animation: false,
  backgroundColor: '#fff',
  textStyle: { fontFamily: FONT },
  grid: [
    { left: 81, top: 69, width: 1156, height: 362, outerBoundsMode: 'none' },
    { left: 81, top: 592, width: 1156, height: 354, outerBoundsMode: 'none' }
  ],
  xAxis: [xAxisFor(0), xAxisFor(1)],
  yAxis: [yAxisFor(0, 6, 1), yAxisFor(1, 35, 5)],
  legend: {
    data: ['RCTeq', 'tmax'],
    orient: 'vertical', left: 106, top: 90, padding: 0, itemGap: 4,
    itemWidth: 52, itemHeight: 10, icon: 'circle',
    formatter: function(name) {
      return name === 'RCTeq' ? '{a|RCT}{b|eq}' : '{a|t}{b|max}'
    },
    textStyle: {
      rich: {
        a: { fontSize: 31, lineHeight: 38, verticalAlign: 'top', color: '#111', fontFamily: FONT },
        b: { fontSize: 20, lineHeight: 17, verticalAlign: 'bottom', color: '#111', fontFamily: FONT }
      }
    }
  },
  graphic: [
    {
      type: 'text', x: 659, y: 8, silent: true,
      style: {
        text: '{a|RCT}{b|eq}{c|– }{a|t}{b|max}', align: 'center', verticalAlign: 'top',
        rich: {
          a: { fontSize: 38, fontWeight: 'bold', lineHeight: 48, verticalAlign: 'top', fill: '#111', fontFamily: FONT },
          b: { fontSize: 28, lineHeight: 25, verticalAlign: 'bottom', fill: '#111', fontFamily: FONT },
          c: { fontSize: 36, lineHeight: 48, verticalAlign: 'top', fill: '#111', fontFamily: FONT }
        }
      }
    },
    {
      type: 'text', x: 659, y: 527, silent: true,
      style: {
        text: '{a|REC}{b|PROTEIN}', align: 'center', verticalAlign: 'top',
        rich: {
          a: { fontSize: 38, fontWeight: 'bold', lineHeight: 48, verticalAlign: 'top', fill: '#111', fontFamily: FONT },
          b: { fontSize: 28, lineHeight: 29, verticalAlign: 'bottom', fill: '#111', fontFamily: FONT }
        }
      }
    },
    yLabel(248),
    yLabel(763),
    { type: 'rect', z: 100, silent: true, shape: { x: 0, y: 0, width: 12, height: 1017 }, style: { fill: '#fff' } }
  ],
  series: [
    {
      name: 'RCTeq', type: 'scatter', xAxisIndex: 0, yAxisIndex: 0,
      data: rctLow.concat(rctBand, rctHigh), symbolSize: DOT, itemStyle: { color: '#1c1c1c', opacity: 1 },
      emphasis: { disabled: true }
    },
    {
      name: 'tmax', type: 'scatter', xAxisIndex: 0, yAxisIndex: 0,
      data: tmaxLow.concat(tmaxBand, tmaxMid, tmaxHigh), symbolSize: DOT, itemStyle: { color: '#bebebe', opacity: 1 },
      emphasis: { disabled: true },
      markLine: {
        silent: true, symbol: 'none', label: { show: false },
        lineStyle: { color: '#c8c8c8', width: 2, type: [11, 8] },
        data: [{ yAxis: threshold, lineStyle: { color: '#ff2020', width: 1.5, type: 'solid' } }].concat(regionLines(topRegion, topRegionTop))
      }
    },
    {
      name: 'REC', type: 'scatter', xAxisIndex: 1, yAxisIndex: 1,
      data: recLow.concat(recBand, recSpikes, recRegion), symbolSize: DOT, itemStyle: { color: '#1c1c1c', opacity: 1 },
      emphasis: { disabled: true }
    },
    {
      name: 'RECsig', type: 'scatter', xAxisIndex: 1, yAxisIndex: 1,
      data: recSig, symbolSize: DOT, itemStyle: { color: '#00cc00', opacity: 1 },
      emphasis: { disabled: true },
      markLine: {
        silent: true, symbol: 'none', label: { show: false },
        lineStyle: { color: '#c8c8c8', width: 2, type: [11, 8] },
        data: [{ yAxis: threshold, lineStyle: { color: '#ff0000', width: 1.5, type: 'solid' } }].concat(regionLines(bottomRegion, bottomRegionTop))
      }
    }
  ]
})
</script>
</body>
</html>
